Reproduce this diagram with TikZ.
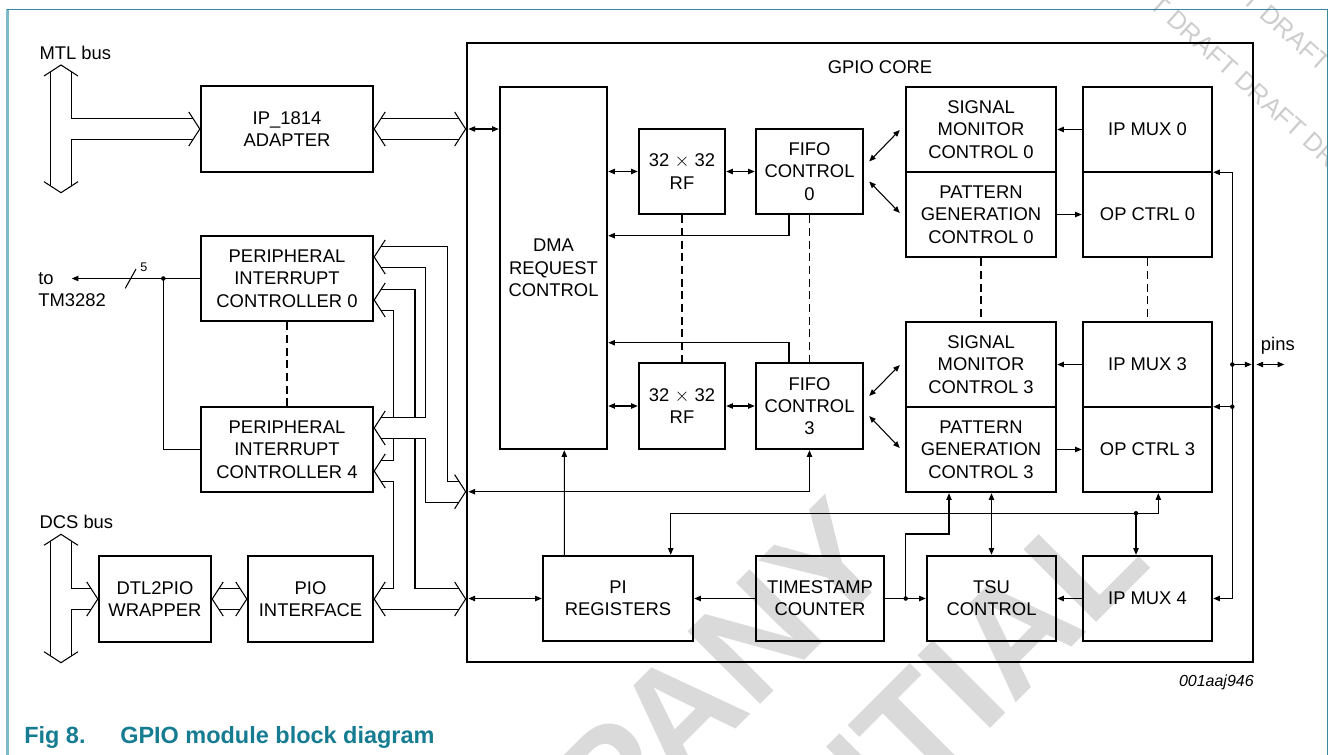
\documentclass[tikz,border=0pt]{standalone}
\usepackage{fontspec}
\setmainfont{Liberation Sans}
\usetikzlibrary{arrows.meta,calc,positioning}

\definecolor{framelight}{RGB}{128,184,204}
\definecolor{framedark}{RGB}{58,135,158}
\definecolor{capteal}{RGB}{22,124,146}
\definecolor{wmgray}{RGB}{218,218,218}
\definecolor{draftgray}{RGB}{205,205,205}

\newcommand{\blkfont}{\fontsize{13.8pt}{16.7pt}\selectfont}
% open bus tips, apex at #1
\newcommand{\tipR}[1]{\draw[bus] ($(#1)+(-11,-17)$) -- (#1) -- ($(#1)+(-11,17)$);}
\newcommand{\tipL}[1]{\draw[bus] ($(#1)+(11,-17)$) -- (#1) -- ($(#1)+(11,17)$);}
\newcommand{\tipU}[1]{\draw[bus] ($(#1)+(-17,11)$) -- (#1) -- ($(#1)+(17,11)$);}
\newcommand{\tipD}[1]{\draw[bus] ($(#1)+(-17,-11)$) -- (#1) -- ($(#1)+(17,-11)$);}

\tikzset{
  blk/.style={draw, line width=1.8pt, align=center, inner sep=0pt, font=\blkfont},
  sz/.style 2 args={minimum width=#1*0.75pt, minimum height=#2*0.75pt},
  lbl/.style={inner sep=0pt, font=\blkfont},
  bus/.style={line width=0.8pt},
  sig/.style={line width=0.8pt},
  link/.style={line width=0.8pt, dash pattern=on 6pt off 3.5pt},
  dot/.style={circle, fill, inner sep=0pt, minimum size=3.4pt},
  wmark/.style={text=wmgray, font=\fontsize{112pt}{112pt}\selectfont\bfseries, inner sep=0pt},
  draftmark/.style={text=draftgray, font=\fontsize{19pt}{19pt}\selectfont, inner sep=0pt},
}

\begin{document}
\begin{tikzpicture}[x=0.75pt,y=-0.75pt,>={Triangle[length=5pt,width=4pt]}]
  \useasboundingbox (0,0) rectangle (1328,755);

  % watermarks
  \begin{scope}
    \clip (0,0) rectangle (1328,755);
    \node[wmark, rotate=45, anchor=base] (wmA) at (634,831) {COMPANY};
    \node[wmark, rotate=45, anchor=base] (wmB) at (761,958) {CONFIDENTIAL};
    \node[draftmark, rotate=-42, anchor=base west] (wmC) at (1097,-40) {DRAFT DRAFT DRAFT DRAFT};
    \node[draftmark, rotate=-42, anchor=base west] (wmD) at (1190,-45) {DRAFT DRAFT DRAFT DRAFT};
  \end{scope}

  % page frame
  \draw[framelight, line width=2pt] (7.3,9.3) -- (7.3,755);
  \draw[framedark, line width=0.8pt] (7.3,9.3) -- (1327.5,9.3) -- (1327.5,755);

  % blocks
  \node[blk, sz={786}{619}, line width=2pt] (core) at (860,352.5) {};
  \node[lbl, anchor=base] (corelbl) at (880,74) {GPIO CORE};
  \node[blk, sz={172}{86}] (adapter) at (287,129) {IP\_1814\\ADAPTER};
  \node[blk, sz={172}{85}] (pic0) at (287,278.5) {PERIPHERAL\\INTERRUPT\\CONTROLLER 0};
  \node[blk, sz={172}{85}] (pic4) at (287,449.5) {PERIPHERAL\\INTERRUPT\\CONTROLLER 4};
  \node[blk, sz={112}{86}] (dtl) at (155,599) {DTL2PIO\\WRAPPER};
  \node[blk, sz={125}{86}] (pio) at (310.5,599) {PIO\\INTERFACE};
  \node[blk, sz={107}{362}] (dma) at (553.5,268) {DMA\\REQUEST\\CONTROL};
  \node[blk, sz={86}{85}] (rf0) at (682,171.5) {32 $\times$ 32\\RF};
  \node[blk, sz={107}{85}] (fifo0) at (809.5,171.5) {FIFO\\CONTROL\\0};
  \node[blk, sz={86}{86}] (rf3) at (682,406) {32 $\times$ 32\\RF};
  \node[blk, sz={107}{86}] (fifo3) at (809.5,406) {FIFO\\CONTROL\\3};
  \node[blk, sz={150}{85}] (smc0) at (981,129.5) {SIGNAL\\MONITOR\\CONTROL 0};
  \node[blk, sz={150}{85}] (pgc0) at (981,214.5) {PATTERN\\GENERATION\\CONTROL 0};
  \node[blk, sz={129}{85}] (mux0) at (1147.5,129.5) {IP MUX 0};
  \node[blk, sz={129}{85}] (opc0) at (1147.5,214.5) {OP CTRL 0};
  \node[blk, sz={150}{85}] (smc3) at (981,364.5) {SIGNAL\\MONITOR\\CONTROL 3};
  \node[blk, sz={150}{85}] (pgc3) at (981,449.5) {PATTERN\\GENERATION\\CONTROL 3};
  \node[blk, sz={129}{85}] (mux3) at (1147.5,364.5) {IP MUX 3};
  \node[blk, sz={129}{85}] (opc3) at (1147.5,449.5) {OP CTRL 3};
  \node[blk, sz={150}{85}] (pireg) at (618,598.5) {PI\\REGISTERS};
  \node[blk, sz={128}{85}] (tstamp) at (820,598.5) {TIMESTAMP\\COUNTER};
  \node[blk, sz={129}{85}] (tsu) at (991.5,598.5) {TSU\\CONTROL};
  \node[blk, sz={129}{85}] (mux4) at (1147.5,598.5) {IP MUX 4};

  % bus labels
  \node[lbl, anchor=base west] (mtl) at (39.3,59.3) {MTL bus};
  \node[lbl, anchor=base west] (dcs) at (39.3,528.3) {DCS bus};

  % MTL bus
  \coordinate (mtlT) at (61,65);
  \coordinate (mtlB) at (61,192.7);
  \tipU{mtlT} \tipD{mtlB} \tipR{adapter.west}
  \draw[bus] ($(mtlT)+(-10.5,6.8)$) -- ($(mtlB)+(-10.5,-6.8)$);
  \draw[bus] ($(mtlT)+(10.5,6.8)$) |- ($(adapter.west)+(-6.8,-10.5)$);
  \draw[bus] ($(mtlB)+(10.5,-6.8)$) |- ($(adapter.west)+(-6.8,10.5)$);

  % adapter to core
  \coordinate (cA) at (core.west |- adapter.east);
  \tipL{adapter.east} \tipR{cA}
  \draw[bus] ($(adapter.east)+(6.8,-10.5)$) -- ($(cA)+(-6.8,-10.5)$);
  \draw[bus] ($(adapter.east)+(6.8,10.5)$) -- ($(cA)+(-6.8,10.5)$);

  % DCS bus
  \coordinate (dcsT) at (61,534.3);
  \coordinate (dcsB) at (61,662.7);
  \tipU{dcsT} \tipD{dcsB} \tipR{dtl.west}
  \draw[bus] ($(dcsT)+(-10.5,6.8)$) -- ($(dcsB)+(-10.5,-6.8)$);
  \draw[bus] ($(dcsT)+(10.5,6.8)$) |- ($(dtl.west)+(-6.8,-10.5)$);
  \draw[bus] ($(dcsB)+(10.5,-6.8)$) |- ($(dtl.west)+(-6.8,10.5)$);

  % wrapper to PIO interface
  \tipL{dtl.east} \tipR{pio.west}
  \draw[bus] ($(dtl.east)+(6.8,-10.5)$) -- ($(pio.west)+(-6.8,-10.5)$);
  \draw[bus] ($(dtl.east)+(6.8,10.5)$) -- ($(pio.west)+(-6.8,10.5)$);

  % interrupt controller buses
  \coordinate (p0a) at ($(pic0.east)+(0,-21.5)$);
  \coordinate (p0b) at ($(pic0.east)+(0,21.5)$);
  \coordinate (p4a) at ($(pic4.east)+(0,-21.5)$);
  \coordinate (p4b) at ($(pic4.east)+(0,21.5)$);
  \coordinate (cB) at (core.west |- 0,491.7);
  \coordinate (cC) at (core.west |- pio.east);
  \tipL{p0a} \tipL{p0b} \tipL{p4a} \tipL{p4b} \tipL{pio.east}
  \tipR{cB} \tipR{cC}
  \draw[bus] (381,246.5) -| (447.3,481.2) -- (458.9,481.2);
  \draw[bus] (381,267.5) -| (425.7,417.5) -- (381,417.5);
  \draw[bus] (381,438.5) -| (425.7,502.2) -- (458.9,502.2);
  \draw[bus] (381,289.5) -| (415,417.5);
  \draw[bus] (381,310.5) -| (393.3,417.5);
  \draw[bus] (415,438.5) |- (458.9,588.5);
  \draw[bus] (393.3,438.5) |- (381,460.5);
  \draw[bus] (381,481.5) -| (393.3,588.5) -- (381,588.5);
  \draw[bus] (381,609.5) -- (458.9,609.5);

  % interrupt output
  \coordinate (tmEnd) at (71.7,278.5);
  \coordinate (jL) at (163.3,278.5);
  \draw[sig,->] (pic0.west) -- (tmEnd);
  \draw[sig] (jL) |- (pic4.west);
  \node[dot] at (jL) {};
  \draw[sig] (125.3,288.3) -- (136,269);
  \node[inner sep=0pt, font=\fontsize{9.4pt}{10pt}\selectfont, anchor=base west] (nsig) at (140,271.7) {5};
  \node[lbl, align=left, anchor=west] (tm) at (38,289.4) {to\\TM3282};
  \draw[link] (pic0.south) -- (pic4.north);

  % inside the core
  \draw[sig,<->] ($(cA)+(2.7,0)$) -- (dma.west |- cA);
  \draw[sig,<->] (dma.east |- rf0.west) -- (rf0.west);
  \draw[sig,<->] (rf0.east) -- (fifo0.west);
  \draw[sig,<->] (dma.east |- rf3.west) -- (rf3.west);
  \draw[sig,<->] (rf3.east) -- (fifo3.west);
  \draw[sig,->] ($(fifo0.south)+(-20.5,0)$) |- (dma.east |- 0,235.7);
  \draw[sig,->] ($(fifo3.north)+(-20.5,0)$) |- (dma.east |- 0,342.7);
  \draw[link] (rf0.south) -- (rf3.north);
  \draw[link] (fifo0.south) -- (fifo3.north);
  \draw[link] (pgc0.south) -- (smc3.north);
  \draw[link] (opc0.south) -- (mux3.north);
  \draw[sig,<->] ($(fifo0.east)+(5,-10)$) -- ($(smc0.west)+(-5,0.5)$);
  \draw[sig,<->] ($(fifo0.east)+(5,10)$) -- ($(pgc0.west)+(-5,-1.5)$);
  \draw[sig,<->] ($(fifo3.east)+(5,-10)$) -- ($(smc3.west)+(-5,0.5)$);
  \draw[sig,<->] ($(fifo3.east)+(5,10)$) -- ($(pgc3.west)+(-5,-1.5)$);
  \draw[sig,->] (mux0.west) -- (smc0.east);
  \draw[sig,->] (pgc0.east) -- (opc0.west);
  \draw[sig,->] (mux3.west) -- (smc3.east);
  \draw[sig,->] (pgc3.east) -- (opc3.west);

  % pins side
  \coordinate (jR) at (1232.3,172.3);
  \coordinate (jR0) at (1232.3,364.5);
  \coordinate (jR1) at (1232.3,406.7);
  \draw[sig,<->] (mux0.south east |- jR) -- (jR) |- (mux4.east);
  \draw[sig,->] (jR1) -- (mux3.south east |- jR1);
  \draw[sig,->] (jR0) -- ($(core.east |- jR0)+(-2.7,0)$);
  \node[dot] at (jR0) {};
  \node[dot] at (jR1) {};
  \coordinate (pinIn) at ($(core.east |- jR0)+(2,0)$);
  \coordinate (pinOut) at ($(pinIn)+(28,0)$);
  \draw[sig,<->] (pinIn) -- (pinOut);
  \node[lbl, anchor=base west] (pins) at (1260.7,351) {pins};

  % registers and timestamp
  \draw[sig,->] ($(pireg.north)+(-53.7,0)$) -- ($(dma.south)+(10.8,0)$);
  \draw[sig,<->] (fifo3.south) |- ($(cB)+(2.7,0)$);
  \draw[sig,<->] ($(pireg.west -| core.west)+(2.7,0)$) -- (pireg.west);
  \draw[sig,->] (tstamp.west) -- (pireg.east);
  \draw[sig,->] (tstamp.east) -- (tsu.west);
  \coordinate (jT) at (905.7,598.5);
  \draw[sig,->] (jT) |- (949,534) -- ($(pgc3.south)+(-32,0)$);
  \coordinate (jP) at (1136,513.3);
  \draw[sig,<->] ($(pireg.north)+(52.7,0)$) |- (1158.3,513.3) -- ($(opc3.south)+(10.8,0)$);
  \draw[sig,->] (jP) -- ($(mux4.north)+(-11.5,0)$);
  \draw[sig,<->] (tsu.north |- pgc3.south) -- (tsu.north);
  \draw[sig,->] (mux4.west) -- (tsu.east);
  \node[dot] at (jT) {};
  \node[dot] at (jP) {};

  % figure id and caption
  \node[inner sep=0pt, font=\fontsize{12pt}{14pt}\selectfont\itshape, anchor=base east] (figid) at (1254,686) {001aaj946};
  \node[inner sep=0pt, text=capteal, font=\fontsize{17.6pt}{20pt}\selectfont\bfseries, anchor=base west] (fignum) at (24,743) {Fig 8.};
  \node[inner sep=0pt, text=capteal, font=\fontsize{17.6pt}{20pt}\selectfont\bfseries, anchor=base west] (figtitle) at (120,743) {GPIO module block diagram};
\end{tikzpicture}
\end{document}
